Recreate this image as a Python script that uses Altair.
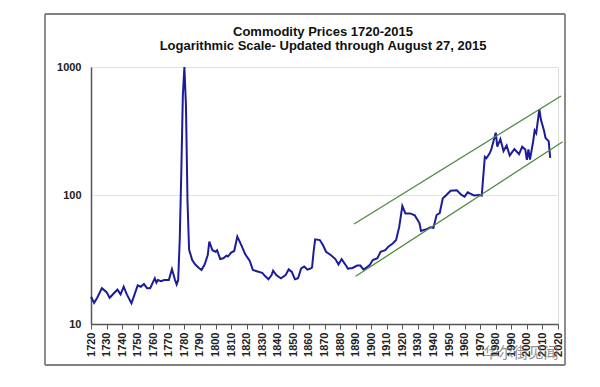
import altair as alt
import pandas as pd

years = [1720, 1722, 1724, 1727, 1730, 1732, 1735, 1737, 1739, 1741, 1743, 1746, 1748,
         1750, 1752, 1754, 1756, 1758, 1761, 1762, 1763, 1765, 1767, 1770, 1772, 1774,
         1775, 1776, 1777, 1778, 1779, 1780, 1781, 1782, 1783, 1785, 1787, 1789, 1791,
         1793, 1795, 1796, 1798, 1800, 1801, 1803, 1805, 1807, 1808, 1810, 1812, 1814,
         1817, 1819, 1822, 1824, 1827, 1830, 1832, 1834, 1836, 1837, 1839, 1842, 1845,
         1847, 1849, 1851, 1853, 1855, 1857, 1859, 1861, 1862, 1863, 1864, 1867, 1869,
         1871, 1874, 1877, 1879, 1881, 1884, 1885, 1888, 1891, 1893, 1895, 1897, 1899,
         1901, 1904, 1906, 1909, 1911, 1914, 1916, 1918, 1920, 1922, 1925, 1928, 1931,
         1932, 1936, 1938, 1940, 1942, 1944, 1946, 1948, 1951, 1955, 1958, 1960, 1962,
         1964, 1966, 1969, 1971, 1973, 1974, 1976, 1977, 1980, 1981, 1983, 1985, 1987,
         1989, 1992, 1995, 1997, 1999, 2000, 2001, 2002, 2004, 2005, 2006, 2008, 2009,
         2011, 2012, 2014, 2015]
prices = [16.3, 14.6, 16, 19, 17.7, 16, 17.5, 18.5, 17, 19.5, 17, 14.5, 17,
          20, 19.5, 20.5, 19, 19, 22.7, 21, 22, 21.5, 22, 22, 26.7, 22,
          20.3, 22, 45, 150, 600, 1000, 500, 90, 38, 31.5, 29, 27.5, 26.3,
          29, 34.4, 43.7, 37.5, 36.5, 37.5, 32, 32.5, 34, 33.5, 36, 37, 47.8,
          40, 35, 31, 26.3, 25.6, 25, 23.5, 22.3, 24, 26, 24, 22.7, 24,
          26.6, 25.4, 22.3, 22.7, 27.1, 28, 26.5, 27, 27.5, 36.5, 45.6, 45, 41.2,
          36.5, 34.4, 32, 29, 32, 28.3, 27, 27.3, 28.5, 28.5, 26.6, 27.5, 28.7,
          31.5, 32.5, 36.5, 37.5, 40, 42.5, 45, 57, 82.8, 72.5, 72.5, 70, 61,
          53, 55, 56.5, 56, 70.5, 73, 95, 100, 109, 110, 101, 98, 106,
          103, 100, 101, 100, 200, 195, 212, 225, 308, 240, 275, 222, 245,
          205, 230, 210, 240, 228, 189, 228, 190, 262, 320, 305, 469, 390,
          320, 280, 265, 196]

channel_names = ["upper", "upper", "lower", "lower"]
channel_years = [1889, 2022, 1890, 2023]
channel_values = [60, 595, 23.5, 262]

x_ticks = list(range(1720, 2030, 10))
y_ticks = [10, 100, 1000]

title_line1 = "Commodity Prices 1720-2015"
title_line2 = "Logarithmic Scale- Updated through August 27, 2015"
watermark = "华尔街见闻"

df = pd.DataFrame({"year": years, "price": prices})
ch = pd.DataFrame({"line": channel_names, "year": channel_years, "price": channel_values})

FONT = "Liberation Sans"

xscale = alt.Scale(domain=[1720, 2020], nice=False, zero=False)
yscale = alt.Scale(type="log", domain=[10, 1000], nice=False)

xaxis = alt.Axis(values=x_ticks, format="d", labelOverlap=False, labelAngle=270,
                 labelFont=FONT, labelFontWeight="bold",
                 labelFontSize=11, labelColor="#222", title=None, grid=False,
                 tickColor="#555", tickSize=5, domainColor="#555", domainWidth=1.5,
                 labelAlign="right", labelBaseline="middle", labelPadding=3,
                 labelBound=False, labelFlush=False)
yaxis = alt.Axis(values=y_ticks, format="d", labelFont=FONT, labelFontWeight="bold",
                 labelFontSize=11, labelColor="#222", title=None, grid=True,
                 gridColor="#e2e2e2", ticks=False, domainColor="#555", domainWidth=1.5,
                 labelPadding=10, labelOverlap=False)

one = pd.DataFrame({"a": [0]})
FL, FR, FT, FB = -46, 474, -53, 298
frame_style = dict(color="#808080", strokeWidth=1.8)
frame_top = alt.Chart(one).mark_rule(**frame_style).encode(
    x=alt.value(FL), x2=alt.value(FR), y=alt.value(FT), y2=alt.value(FT))
frame_bottom = alt.Chart(one).mark_rule(**frame_style).encode(
    x=alt.value(FL), x2=alt.value(FR), y=alt.value(FB), y2=alt.value(FB))
frame_left = alt.Chart(one).mark_rule(**frame_style).encode(
    x=alt.value(FL), x2=alt.value(FL), y=alt.value(FT), y2=alt.value(FB))
frame_right = alt.Chart(one).mark_rule(**frame_style).encode(
    x=alt.value(FR), x2=alt.value(FR), y=alt.value(FT), y2=alt.value(FB))

price_line = alt.Chart(df).mark_line(color="#1c1c9a", strokeWidth=2).encode(
    x=alt.X("year:Q", scale=xscale, axis=xaxis),
    y=alt.Y("price:Q", scale=yscale, axis=yaxis),
)

channel = alt.Chart(ch).mark_line(color="#4e8a3c", strokeWidth=1.3, clip=False).encode(
    x=alt.X("year:Q", scale=xscale, axis=xaxis),
    y=alt.Y("price:Q", scale=yscale, axis=yaxis),
    detail="line:N",
)

t1 = alt.Chart(pd.DataFrame({"t": [title_line1]})).mark_text(
    font=FONT, fontSize=13, fontWeight="bold", color="#111", align="center", baseline="middle"
).encode(text="t:N", x=alt.value(232), y=alt.value(-35))

t2 = alt.Chart(pd.DataFrame({"t": [title_line2]})).mark_text(
    font=FONT, fontSize=13, fontWeight="bold", color="#111", align="center", baseline="middle"
).encode(text="t:N", x=alt.value(232), y=alt.value(-21))

wm = alt.Chart(pd.DataFrame({"t": [watermark]})).mark_text(
    font="Noto Sans CJK SC", fontSize=15, color="#777", opacity=0.8, align="center"
).encode(text="t:N", x=alt.value(430), y=alt.value(286))

chart = alt.layer(price_line, channel, frame_top, frame_bottom, frame_left, frame_right,
                  t1, t2, wm).properties(
    width=467, height=257,
    autosize=alt.AutoSizeParams(type="none"),
    padding={"left": 83, "top": 59, "right": 14, "bottom": 44},
).configure_view(stroke="#888", strokeWidth=1.5).configure_axisX(
    labelOverlap=False
).configure(background="white")

chart.save("out.html", embed_options={"renderer": "svg", "actions": False})
